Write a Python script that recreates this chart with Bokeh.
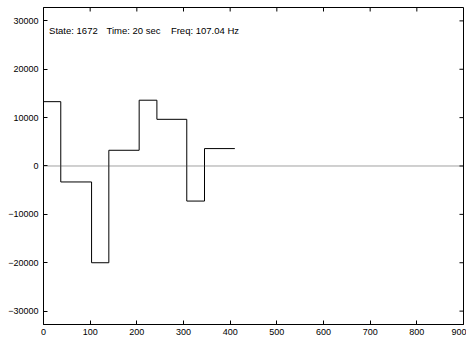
from bokeh.plotting import figure
from bokeh.models import LinearAxis, Span, Label, FixedTicker
from bokeh.embed import file_html
from bokeh.resources import INLINE

# step signal: start x of each level and its value (last point closes the final level)
step_x = [0, 37, 103, 140, 205, 243, 307, 345, 410]
step_y = [13300, -3300, -20000, 3250, 13600, 9650, -7250, 3600, 3600]

x_ticks = [0, 100, 200, 300, 400, 500, 600, 700, 800, 900]
y_ticks = [-30000, -20000, -10000, 0, 10000, 20000, 30000]

info_texts = ["State: 1672", "Time: 20 sec", "Freq: 107.04 Hz"]
info_x = [12, 135, 273]

FONT = "Liberation Sans"
X0, X1 = 0, 900
Y0, Y1 = -32768, 32767
FW, FH = 417, 317          # frame size in px
TICK = 4                   # inward tick length in px

p = figure(width=466, height=343, x_range=(X0, X1), y_range=(Y0, Y1),
           output_backend="svg", toolbar_location=None,
           min_border_left=43, min_border_right=3, min_border_top=7, min_border_bottom=19,
           x_axis_location=None, y_axis_location=None)
p.grid.visible = False
p.outline_line_color = "black"
p.outline_line_width = 1
p.background_fill_color = "white"
p.border_fill_color = "white"

def mk_axis(ticks):
    ax = LinearAxis(ticker=FixedTicker(ticks=ticks))
    ax.major_tick_in = TICK
    ax.major_tick_out = 0
    ax.minor_tick_in = 0
    ax.minor_tick_out = 0
    ax.axis_line_color = "black"
    ax.major_tick_line_color = "black"
    ax.major_label_text_font = FONT
    ax.major_label_text_color = "black"
    ax.major_label_text_font_size = "9px"
    return ax

bx = mk_axis(x_ticks)
bx.major_label_standoff = 4
p.add_layout(bx, "below")
ly = mk_axis(y_ticks)
ly.major_label_standoff = 5
p.add_layout(ly, "left")

# mirrored inward ticks on top and right edges
dy = TICK * (Y1 - Y0) / FH
dx = TICK * (X1 - X0) / FW
p.segment(x0=x_ticks, y0=[Y1] * len(x_ticks), x1=x_ticks, y1=[Y1 - dy] * len(x_ticks),
          line_color="black", line_width=1)
p.segment(x0=[X1] * len(y_ticks), y0=y_ticks, x1=[X1 - dx] * len(y_ticks), y1=y_ticks,
          line_color="black", line_width=1)

p.add_layout(Span(location=0, dimension="width", line_color="#444444",
                  line_width=1, line_dash="1 1"))

p.step(step_x, step_y, mode="after", line_color="black", line_width=1)

for t, x in zip(info_texts, info_x):
    p.add_layout(Label(x=x, y=28000, text=t, text_font=FONT, text_font_size="9.5px",
                       text_color="black", text_baseline="middle"))

open("out.html", "w").write(file_html(p, INLINE))
